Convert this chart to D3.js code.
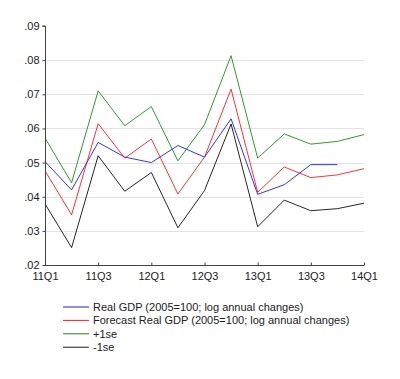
<!DOCTYPE html>
<html><head><meta charset="utf-8">
<script src="https://cdn.jsdelivr.net/npm/d3@7"></script>
<style>body{margin:0;background:#fff;}svg{display:block;font-family:"Liberation Sans",Arial,sans-serif;}</style>
</head><body><svg id="c" width="400" height="379"></svg>
<script>
const quarters = ["11Q1","11Q2","11Q3","11Q4","12Q1","12Q2","12Q3","12Q4","13Q1","13Q2","13Q3","13Q4","14Q1"];
const tickLabels = ["11Q1","11Q3","12Q1","12Q3","13Q1","13Q3","14Q1"];
const yTicks = [0.02,0.03,0.04,0.05,0.06,0.07,0.08,0.09];
const realGDP = [0.0503,0.0420,0.0559,0.0516,0.0500,0.0550,0.0516,0.0628,0.0407,0.0435,0.0494,0.0494,null];
const forecastGDP = [0.0476,0.0347,0.0614,0.0513,0.0569,0.0408,0.0516,0.0715,0.0413,0.0487,0.0456,0.0464,0.0482];
const plus1se = [0.0572,0.0441,0.0710,0.0608,0.0664,0.0505,0.0611,0.0813,0.0513,0.0584,0.0554,0.0562,0.0582];
const minus1se = [0.0379,0.0251,0.0520,0.0416,0.0471,0.0309,0.0418,0.0613,0.0312,0.0390,0.0359,0.0365,0.0381];
const seriesNames = ["Real GDP (2005=100; log annual changes)","Forecast Real GDP (2005=100; log annual changes)","+1se","-1se"];
const seriesColors = ["#0000ff","#ff0000","#008000","#000000"];
const seriesData = [realGDP, forecastGDP, plus1se, minus1se];

const svg = d3.select("#c");
const x = d3.scalePoint().domain(quarters).range([45, 364]);
const y = d3.scaleLinear().domain([0.02, 0.09]).range([265, 26]);

// gridlines
svg.append("g").selectAll("line").data(yTicks.filter(t => t > 0.02 && t < 0.09)).join("line")
  .attr("x1", 45).attr("x2", 364)
  .attr("y1", d => Math.round(y(d)) + 0.5).attr("y2", d => Math.round(y(d)) + 0.5)
  .attr("stroke", "#e3e3e3").attr("stroke-width", 1);

// series lines
const line = d3.line().defined(d => d != null).x((d, i) => x(quarters[i])).y(d => y(d));
seriesData.forEach((s, k) => {
  svg.append("path").datum(s).attr("d", line)
    .attr("fill", "none").attr("stroke", seriesColors[k]).attr("stroke-width", 1).attr("opacity", k===3?0.85:0.8);
});

// y axis
const yAxis = d3.axisLeft(y).tickValues(yTicks).tickSize(3).tickPadding(3)
  .tickFormat(d => d3.format(".2f")(d).replace(/^0/, ""));
const gy = svg.append("g").attr("transform", "translate(45.5,0)").call(yAxis);
gy.selectAll("text").attr("font-size", 11).attr("fill", "#222").attr("font-family", "Liberation Sans, Arial, sans-serif");
gy.selectAll("line").attr("stroke", "#444");
gy.select(".domain").attr("stroke", "#444").attr("d", `M-3,${y(0.09)}H0V${y(0.02)}`);

// x axis
const xAxis = d3.axisBottom(x).tickValues(tickLabels).tickSize(-3).tickPadding(7);
const gx = svg.append("g").attr("transform", "translate(0,265.5)").call(xAxis);
gx.selectAll("text").attr("font-size", 11).attr("fill", "#222").attr("font-family", "Liberation Sans, Arial, sans-serif");
gx.selectAll("line").attr("stroke", "#444");
gx.select(".domain").attr("stroke", "#444").attr("d", `M45,0H364`);

// legend
const leg = svg.append("g");
seriesNames.forEach((n, i) => {
  const yy = 307 + i * 13.4;
  leg.append("line").attr("x1", 63).attr("x2", 89).attr("y1", yy).attr("y2", yy)
    .attr("stroke", seriesColors[i]).attr("stroke-width", 1).attr("opacity", 0.9);
  leg.append("text").attr("x", 93).attr("y", yy).attr("dy", "0.35em")
    .attr("font-size", 11).attr("fill", "#222").text(n);
});
</script></body></html>
